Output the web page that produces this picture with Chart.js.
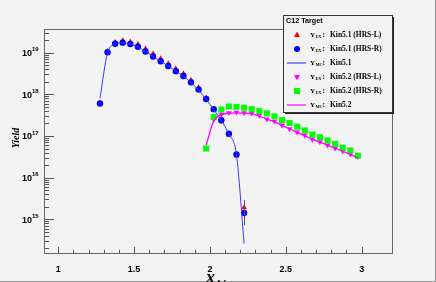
<!DOCTYPE html>
<html>
<head>
<meta charset="utf-8">
<script src="https://cdn.jsdelivr.net/npm/chart.js@4.4.1/dist/chart.umd.min.js"></script>
<style>
  html, body { margin: 0; padding: 0; background: #f2f2f2; }
</style>
</head>
<body>
<canvas id="yieldChart" width="436" height="282"></canvas>
<script>
// Kin5.1 (HRS-L / HRS-R data, MC)
const xKin51 = [1.275, 1.325, 1.375, 1.425, 1.475, 1.525, 1.575, 1.625, 1.675, 1.725,
                1.775, 1.825, 1.875, 1.925, 1.975, 2.025, 2.075, 2.125, 2.175, 2.225];
const yKin51L = [6.2e17, 1.08e19, 1.78e19, 1.95e19, 1.82e19, 1.58e19, 1.24e19, 9.4e18, 7.2e18, 5.5e18,
                 4.15e18, 3.15e18, 2.2e18, 1.45e18, 8.2e17, 4.1e17, 2.2e17, 1.05e17, 3.4e16, 1.9e15];
const yKin51R = [6.0e17, 1.02e19, 1.64e19, 1.74e19, 1.61e19, 1.39e19, 1.07e19, 8.1e18, 6.2e18, 4.77e18,
                 3.6e18, 2.75e18, 1.94e18, 1.30e18, 7.7e17, 4.4e17, 2.38e17, 1.14e17, 3.6e16, 1.42e15];
const errKin51L = [0, 0, 0, 0, 0, 0, 0, 0, 0, 0, 0, 0, 0, 0, 0, 0, 0, 0, 0, 1.0e15];
const errKin51R = [0, 0, 0, 0, 0, 0, 0, 0, 0, 0, 0, 0, 0, 0, 0, 0, 0, 0, 0, 0.7e15];
const yKin51MC = [8.0e17, 1.0e19, 1.6e19, 1.72e19, 1.6e19, 1.37e19, 1.06e19, 8.1e18, 6.2e18, 4.75e18,
                  3.6e18, 2.72e18, 1.92e18, 1.27e18, 7.5e17, 4.3e17, 2.35e17, 1.1e17, 3.5e16, 2.6e14];

// Kin5.2
const xKin52 = [1.975, 2.025, 2.075, 2.125, 2.175, 2.225, 2.275, 2.325, 2.375, 2.425, 2.475,
                2.525, 2.575, 2.625, 2.675, 2.725, 2.775, 2.825, 2.875, 2.925, 2.975];
const yKin52R = [5.0e16, 2.86e17, 4.3e17, 5.1e17, 5.0e17, 4.75e17, 4.4e17, 3.95e17, 3.5e17, 2.95e17, 2.4e17,
                 2.05e17, 1.67e17, 1.36e17, 1.08e17, 9.3e16, 7.8e16, 6.45e16, 5.2e16, 4.47e16, 3.35e16];
const xKin52L = xKin52.slice(1);
const yKin52L = [2.5e17, 3.3e17, 3.6e17, 3.7e17, 3.6e17, 3.5e17, 3.13e17, 2.55e17, 2.25e17, 1.81e17,
                 1.47e17, 1.23e17, 1.04e17, 8.3e16, 7.2e16, 6.0e16, 5.1e16, 4.3e16, 3.7e16, 3.13e16];
const yKin52MC = [6.0e16, 2.3e17, 3.2e17, 3.5e17, 3.6e17, 3.55e17, 3.4e17, 3.0e17, 2.55e17, 2.2e17, 1.8e17,
                  1.47e17, 1.22e17, 1.02e17, 8.4e16, 7.1e16, 6.0e16, 5.1e16, 4.3e16, 3.6e16, 3.0e16];

const xTicks = [1, 1.5, 2, 2.5, 3];
const yExponents = [15, 16, 17, 18, 19];

const legendTitle = 'C12 Target';
const legendRows = [
    {sub: 'EX', text: 'Kin5.1 (HRS-L)', style: 'triangle', color: '#ff0000'},
    {sub: 'EX', text: 'Kin5.1 (HRS-R)', style: 'circle', color: '#0000ff'},
    {sub: 'MC', text: 'Kin5.1', style: 'line', color: '#4444ff'},
    {sub: 'EX', text: 'Kin5.2 (HRS-L)', style: 'invtriangle', color: '#ff00ff'},
    {sub: 'EX', text: 'Kin5.2 (HRS-R)', style: 'rect', color: '#00ff00'},
    {sub: 'MC', text: 'Kin5.2', style: 'line', color: '#ff00ff'}
];

const toPoints = (xs, ys) => xs.map((x, i) => ({x: x, y: ys[i]}));

const BG = '#f2f2f2';

function drawMarker(ctx, style, x, y, color) {
    ctx.save();
    ctx.fillStyle = color;
    ctx.strokeStyle = color;
    ctx.beginPath();
    if (style === 'triangle') {
        ctx.moveTo(x, y - 3.5); ctx.lineTo(x + 3, y + 2); ctx.lineTo(x - 3, y + 2); ctx.closePath(); ctx.fill();
    } else if (style === 'invtriangle') {
        ctx.moveTo(x, y + 3.5); ctx.lineTo(x + 3, y - 2); ctx.lineTo(x - 3, y - 2); ctx.closePath(); ctx.fill();
    } else if (style === 'circle') {
        ctx.arc(x, y, 3, 0, Math.PI * 2); ctx.fill();
    } else if (style === 'rect') {
        ctx.fillRect(x - 3, y - 3, 6, 6);
    } else if (style === 'line') {
        ctx.lineWidth = 1.2;
        ctx.moveTo(x - 10, y); ctx.lineTo(x + 9, y); ctx.stroke();
    }
    ctx.restore();
}

const rootStyle = {
    id: 'rootStyle',
    beforeDraw(chart) {
        const ctx = chart.ctx;
        ctx.save();
        ctx.fillStyle = BG;
        ctx.fillRect(0, 0, chart.width, chart.height);
        ctx.strokeStyle = '#9a9a9a';
        ctx.lineWidth = 1;
        ctx.beginPath();
        ctx.moveTo(chart.width - 0.5, 0); ctx.lineTo(chart.width - 0.5, chart.height);
        ctx.moveTo(0, chart.height - 0.5); ctx.lineTo(chart.width, chart.height - 0.5);
        ctx.stroke();
        ctx.restore();
    },
    beforeDatasetsDraw(chart) {
        const {ctx, chartArea: a, scales: {x, y}} = chart;
        ctx.save();
        // frame
        ctx.strokeStyle = '#666';
        ctx.lineWidth = 1;
        ctx.strokeRect(Math.round(a.left) + 0.5, Math.round(a.top) + 0.5,
            Math.round(a.right - a.left), Math.round(a.bottom - a.top));

        // y ticks (log, inside)
        ctx.strokeStyle = '#555';
        ctx.beginPath();
        for (let e = 14; e <= 19; e++) {
            for (let m = 1; m <= 9; m++) {
                const v = m * Math.pow(10, e);
                if (v < y.min || v > y.max) continue;
                const py = Math.round(y.getPixelForValue(v)) + 0.5;
                const len = m === 1 ? 10 : 5;
                ctx.moveTo(a.left, py); ctx.lineTo(a.left + len, py);
            }
        }
        // x ticks (inside)
        for (let k = 10; k <= 30; k++) {
            const px = Math.round(x.getPixelForValue(k / 10)) + 0.5;
            const len = k % 5 === 0 ? 6 : 3;
            ctx.moveTo(px, a.bottom); ctx.lineTo(px, a.bottom - len);
        }
        ctx.stroke();

        // y labels 10^n
        ctx.fillStyle = '#000';
        ctx.textBaseline = 'middle';
        yExponents.forEach(e => {
            const py = y.getPixelForValue(Math.pow(10, e));
            ctx.font = 'bold 9px "Liberation Sans", Arial, sans-serif';
            ctx.textAlign = 'right';
            ctx.fillText('10', 32, py + 1);
            ctx.font = 'bold 6px "Liberation Sans", Arial, sans-serif';
            ctx.textAlign = 'left';
            ctx.fillText(String(e), 32, py - 3);
        });

        // axis titles
        ctx.save();
        ctx.translate(16, 138);
        ctx.rotate(-Math.PI / 2);
        ctx.textAlign = 'center';
        ctx.font = 'bold italic 10px "Liberation Serif", "Times New Roman", serif';
        ctx.fillText('Yield', 0, 0);
        ctx.restore();

        ctx.textAlign = 'left';
        ctx.textBaseline = 'alphabetic';
        ctx.font = 'bold italic 18px "Liberation Serif", "Times New Roman", serif';
        ctx.fillText('x', 206, 283);
        ctx.font = 'bold italic 11px "Liberation Serif", "Times New Roman", serif';
        ctx.fillText('bj', 217, 287);
        ctx.restore();
    },
    afterDatasetsDraw(chart) {
        // error bars for the last Kin5.1 points
        const {ctx, scales: {x, y}} = chart;
        ctx.save();
        ctx.strokeStyle = '#555';
        ctx.lineWidth = 1;
        ctx.beginPath();
        [[yKin51L, errKin51L], [yKin51R, errKin51R]].forEach(([ys, errs]) => {
            errs.forEach((err, i) => {
                if (!err) return;
                const px = Math.round(x.getPixelForValue(xKin51[i])) + 0.5;
                ctx.moveTo(px, y.getPixelForValue(ys[i] + err));
                ctx.lineTo(px, y.getPixelForValue(ys[i] - err));
            });
        });
        ctx.stroke();
        ctx.restore();
    },
    afterDraw(chart) {
        const ctx = chart.ctx;
        const L = 283, T = 15, R = 392, B = 112;
        ctx.save();
        ctx.fillStyle = '#222';
        ctx.fillRect(L + 2, T + 2, R - L, B - T);
        ctx.fillStyle = BG;
        ctx.fillRect(L, T, R - L, B - T);
        ctx.strokeStyle = '#333';
        ctx.lineWidth = 1;
        ctx.strokeRect(L + 0.5, T + 0.5, R - L, B - T);

        ctx.fillStyle = '#000';
        ctx.textBaseline = 'middle';
        ctx.font = 'bold 7.2px "Liberation Sans", Arial, sans-serif';
        ctx.fillText(legendTitle, 286, 21.5);

        legendRows.forEach((row, i) => {
            const cy = 35 + i * 14;
            drawMarker(ctx, row.style, 297, cy, row.color);
            ctx.fillStyle = '#000';
            ctx.font = 'bold 7px "Liberation Serif", "Times New Roman", serif';
            ctx.fillText('Y', 310, cy);
            ctx.font = 'bold 4.3px "Liberation Serif", "Times New Roman", serif';
            ctx.fillText(row.sub, 315.5, cy + 2);
            ctx.font = 'bold 7.5px "Liberation Serif", "Times New Roman", serif';
            ctx.fillText(':', 322.5, cy);
            ctx.fillText(row.text, 330, cy);
        });
        ctx.restore();
    }
};

new Chart(document.getElementById('yieldChart'), {
    type: 'scatter',
    data: {
        datasets: [
            {
                label: 'Kin5.2 MC',
                data: toPoints(xKin52, yKin52MC),
                showLine: true,
                borderColor: '#ff00ff',
                borderWidth: 1.3,
                pointRadius: 0,
                cubicInterpolationMode: 'monotone',
                order: 1
            },
            {
                label: 'Kin5.2 (HRS-R)',
                data: toPoints(xKin52, yKin52R),
                pointStyle: 'rect',
                pointRadius: 4.3,
                backgroundColor: '#00ff00',
                borderWidth: 0,
                order: 2
            },
            {
                label: 'Kin5.2 (HRS-L)',
                data: toPoints(xKin52L, yKin52L),
                pointStyle: 'triangle',
                rotation: 180,
                pointRadius: 3.3,
                backgroundColor: '#ff00ff',
                borderWidth: 0,
                order: 3
            },
            {
                label: 'Kin5.1 MC',
                data: toPoints(xKin51, yKin51MC),
                showLine: true,
                borderColor: '#3a3aff',
                borderWidth: 1,
                pointRadius: 0,
                cubicInterpolationMode: 'monotone',
                order: 4
            },
            {
                label: 'Kin5.1 (HRS-R)',
                data: toPoints(xKin51, yKin51R),
                pointStyle: 'circle',
                pointRadius: 3.2,
                backgroundColor: '#0000ff',
                borderWidth: 0,
                order: 5
            },
            {
                label: 'Kin5.1 (HRS-L)',
                data: toPoints(xKin51, yKin51L),
                pointStyle: 'triangle',
                pointRadius: 3.3,
                backgroundColor: '#ff0000',
                borderWidth: 0,
                order: 6
            }
        ]
    },
    options: {
        responsive: false,
        animation: false,
        layout: {padding: {top: 29, right: 44, left: 0, bottom: 0}},
        plugins: {legend: {display: false}, tooltip: {enabled: false}},
        scales: {
            x: {
                type: 'linear',
                min: 0.906,
                max: 3.2,
                afterFit: s => { s.height = 29; },
                afterBuildTicks: s => { s.ticks = xTicks.map(v => ({value: v})); },
                grid: {display: false},
                border: {display: false},
                ticks: {
                    padding: 3,
                    color: '#000',
                    font: {family: '"Liberation Sans", Arial, sans-serif', size: 9, weight: 'bold'},
                    callback: v => String(v)
                }
            },
            y: {
                type: 'logarithmic',
                min: 1.55e14,
                max: 3.7e19,
                afterFit: s => { s.width = 44; },
                grid: {display: false},
                border: {display: false},
                ticks: {display: false}
            }
        }
    },
    plugins: [rootStyle]
});
</script>
</body>
</html>
